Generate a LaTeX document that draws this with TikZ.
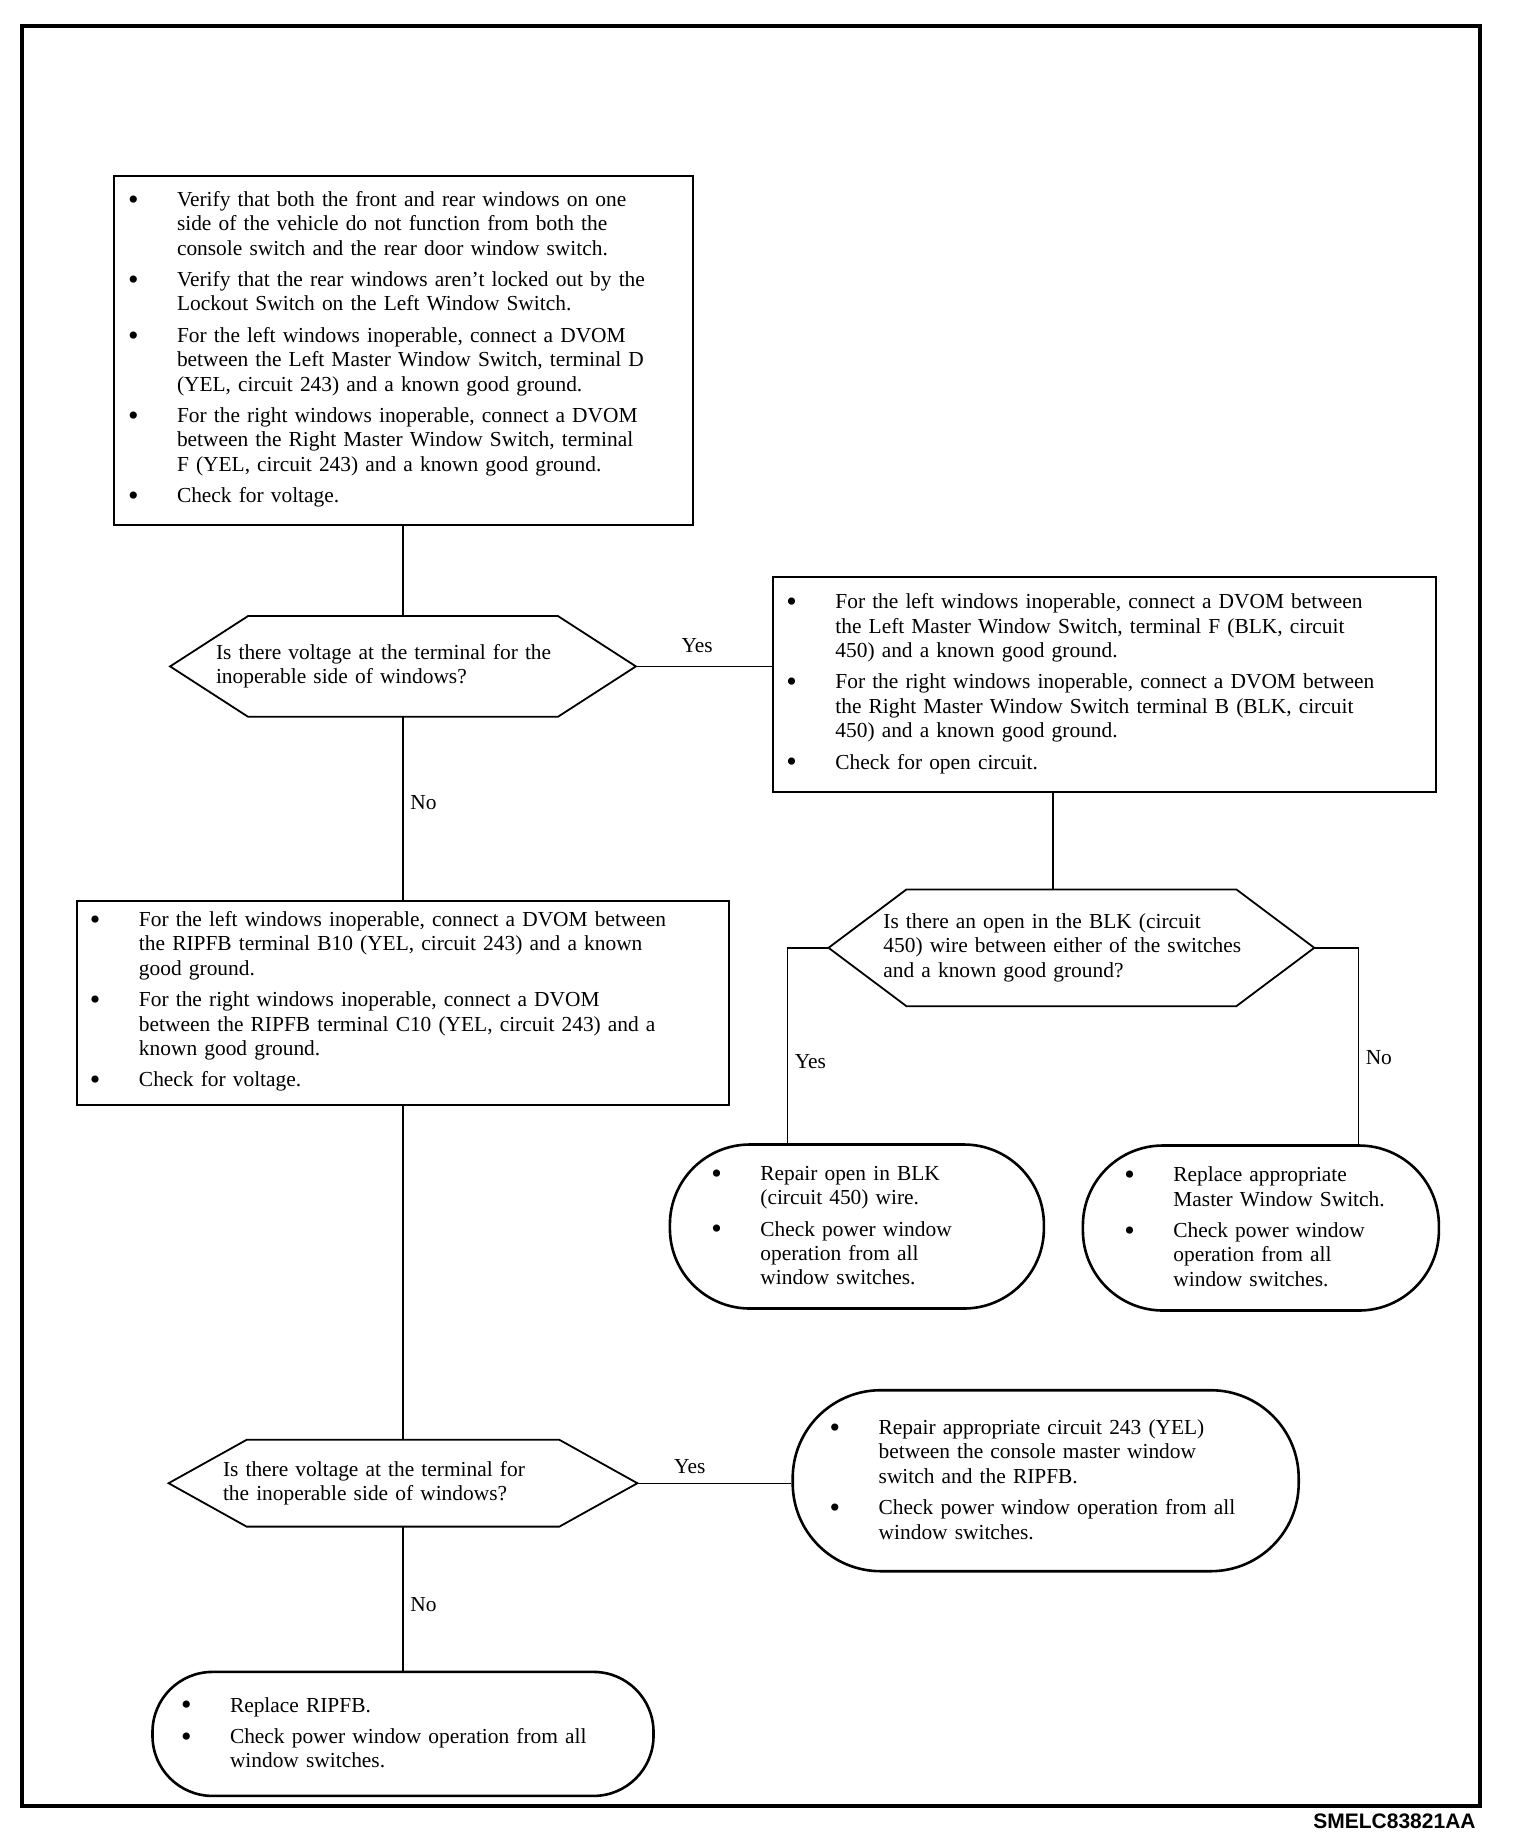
\documentclass[tikz,border=0pt]{standalone}
\usepackage{fontspec}
\setmainfont{Liberation Serif}
\newfontfamily\tagfont{Liberation Sans}
\usetikzlibrary{positioning}
\newif\ifbfirst
\newcommand\bitem[1]{\par\ifbfirst\bfirstfalse\else\vskip3.5pt\relax\fi\noindent\hangindent=24.5pt\hangafter=1\makebox[24.5pt][l]{\raisebox{-1.4pt}{\fontsize{15}{12}\selectfont\textbullet}}#1\par}
\newcommand\bend{\endgraf\kern6pt\relax}

\begin{document}
\begin{tikzpicture}[
    x=0.5pt, y=-0.5pt,
    font=\fontsize{10.7}{12.2}\selectfont\bfirsttrue,
    box/.style={draw, line width=1pt, inner sep=0pt, align=left, execute at end node=\bend},
    term/.style={draw, line width=1.3pt, inner sep=0pt, align=left, rounded corners=#1, execute at end node=\bend},
    dec/.style={inner sep=0pt, align=left, append after command={\pgfextra{\draw[line width=.9pt] (\tikzlastnode.west) -- ([xshift=39pt]\tikzlastnode.north west) -- ([xshift=-39pt]\tikzlastnode.north east) -- (\tikzlastnode.east) -- ([xshift=-39pt]\tikzlastnode.south east) -- ([xshift=39pt]\tikzlastnode.south west) -- cycle;}}},
    link/.style={line width=.7pt}
]
    \useasboundingbox (0,0) rectangle (1520,1844);
    \draw[line width=2pt] (22,26) rectangle (1480,1806);

    \node[box, minimum width=289.5pt, minimum height=174.5pt, text width=275pt] (verify) at (403,350.5) {%
        \bitem{Verify that both the front and rear windows on one\newline side of the vehicle do not function from both the\newline console switch and the rear door window switch.}%
        \bitem{Verify that the rear windows aren't locked out by the\newline Lockout Switch on the Left Window Switch.}%
        \bitem{For the left windows inoperable, connect a DVOM\newline between the Left Master Window Switch, terminal D\newline (YEL, circuit 243) and a known good ground.}%
        \bitem{For the right windows inoperable, connect a DVOM\newline between the Right Master Window Switch, terminal\newline F (YEL, circuit 243) and a known good ground.}%
        \bitem{Check for voltage.}};
    \node[dec, below=45pt of verify, minimum width=232.5pt, minimum height=50pt, text width=187pt] (volt1) {Is there voltage at the terminal for the\\inoperable side of windows?};
    \node[box, right=68pt of volt1, yshift=-9.25pt, minimum width=331.5pt, minimum height=107.5pt, text width=318pt] (blk) {%
        \bitem{For the left windows inoperable, connect a DVOM between\newline the Left Master Window Switch, terminal F (BLK, circuit\newline 450) and a known good ground.}%
        \bitem{For the right windows inoperable, connect a DVOM between\newline the Right Master Window Switch terminal B (BLK, circuit\newline 450) and a known good ground.}%
        \bitem{Check for open circuit.}};
    \node[dec, below=48pt of blk, xshift=-16.5pt, minimum width=242.5pt, minimum height=58pt, text width=188pt] (open) {Is there an open in the BLK (circuit\\450) wire between either of the switches\\and a known good ground?};
    \node[term=40pt, below=68.5pt of open, xshift=-107.25pt, minimum width=187pt, minimum height=82pt, text width=145.5pt] (repblk) {%
        \bitem{Repair open in BLK\newline (circuit 450) wire.}%
        \bitem{Check power window\newline operation from all\newline window switches.}};
    \node[term=40pt, below=69pt of open, xshift=94.75pt, minimum width=178pt, minimum height=82.5pt, text width=136.5pt] (repsw) {%
        \bitem{Replace appropriate\newline Master Window Switch.}%
        \bitem{Check power window\newline operation from all\newline window switches.}};
    \node[box, below=91.5pt of volt1, minimum width=326pt, minimum height=102pt, text width=313pt] (ripfb) {%
        \bitem{For the left windows inoperable, connect a DVOM between\newline the RIPFB terminal B10 (YEL, circuit 243) and a known\newline good ground.}%
        \bitem{For the right windows inoperable, connect a DVOM\newline between the RIPFB terminal C10 (YEL, circuit 243) and a\newline known good ground.}%
        \bitem{Check for voltage.}};
    \node[dec, below=167pt of ripfb, minimum width=234pt, minimum height=43pt, text width=180pt] (volt2) {Is there voltage at the terminal for\\the inoperable side of windows?};
    \node[term=44pt, right=77pt of volt2, yshift=1.25pt, minimum width=253pt, minimum height=90.5pt, text width=216pt] (repyel) {%
        \bitem{Repair appropriate circuit 243 (YEL)\newline between the console master window\newline switch and the RIPFB.}%
        \bitem{Check power window operation from all\newline window switches.}};
    \node[term=30pt, below=72pt of volt2, minimum width=250.5pt, minimum height=62pt, text width=222pt] (reprip) {%
        \bitem{Replace RIPFB.}%
        \bitem{Check power window operation from all\newline window switches.}};
    \node[anchor=east, inner sep=0pt, font=\tagfont\bfseries\fontsize{10.5}{12}\selectfont] (figid) at (1476,1821) {SMELC83821AA};

    \draw[link] (verify) -- (volt1);
    \draw[link] (volt1.east) -- (volt1.east -| blk.west) node[pos=.45, above=3pt] {Yes};
    \draw[link] (volt1) -- (ripfb) node[pos=.47, right] {No};
    \draw[link] ([xshift=-25.75pt]blk.south) -- ([xshift=-25.75pt]blk.south |- open.north);
    \draw[link] (open.west) -| ([xshift=-34.75pt]repblk.north) node[pos=.79, right] {Yes};
    \draw[link] (open.east) -| ([xshift=48.75pt]repsw.north) node[pos=.78, right] {No};
    \draw[link] (ripfb) -- (volt2);
    \draw[link] (volt2.east) -- (volt2.east -| repyel.west) node[pos=.34, above=1pt] {Yes};
    \draw[link] (volt2) -- (reprip) node[pos=.54, right] {No};
\end{tikzpicture}
\end{document}
